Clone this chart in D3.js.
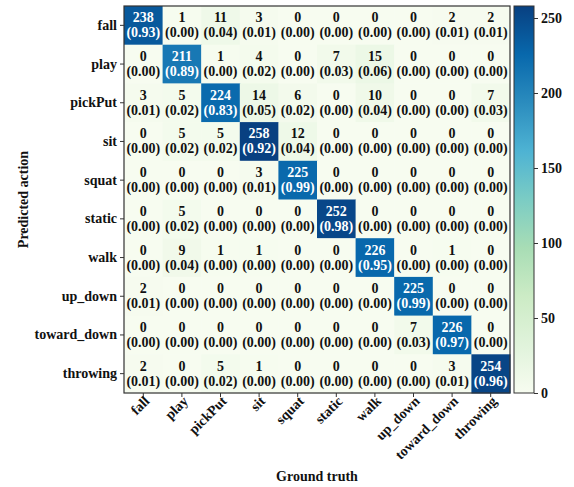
<!DOCTYPE html>
<html>
<head>
<meta charset="utf-8">
<script src="https://cdn.jsdelivr.net/npm/d3@7"></script>
<style>
  html, body { margin: 0; padding: 0; background: #fff; }
  svg text { font-family: "Liberation Serif", "Times New Roman", serif; font-weight: bold; }
</style>
</head>
<body>
<svg id="chart" width="574" height="487"></svg>
<script>
// Action classes (rows = predicted, columns = ground truth)
const classes = ["fall", "play", "pickPut", "sit", "squat", "static", "walk", "up_down", "toward_down", "throwing"];

// Confusion counts, one array per predicted class
const fall       = [238, 1, 11, 3, 0, 0, 0, 0, 2, 2];
const play       = [0, 211, 1, 4, 0, 7, 15, 0, 0, 0];
const pickPut    = [3, 5, 224, 14, 6, 0, 10, 0, 0, 7];
const sit        = [0, 5, 5, 258, 12, 0, 0, 0, 0, 0];
const squat      = [0, 0, 0, 3, 225, 0, 0, 0, 0, 0];
const staticRow  = [0, 5, 0, 0, 0, 252, 0, 0, 0, 0];
const walk       = [0, 9, 1, 1, 0, 0, 226, 0, 1, 0];
const upDown     = [2, 0, 0, 0, 0, 0, 0, 225, 0, 0];
const towardDown = [0, 0, 0, 0, 0, 0, 0, 7, 226, 0];
const throwing   = [2, 0, 5, 1, 0, 0, 0, 0, 3, 254];

const counts = [fall, play, pickPut, sit, squat, staticRow, walk, upDown, towardDown, throwing];
const colorbarTicks = [0, 50, 100, 150, 200, 250];

// Green-blue sequential palette, interpolated linearly between its nine anchors
const gnbu = ["#f7fcf0", "#e0f3db", "#ccebc5", "#a8ddb5", "#7bccc4", "#4eb3d3", "#2b8cbe", "#0868ac", "#084081"];
const gnbuInterp = d3.piecewise(d3.interpolateRgb, gnbu);

const svg = d3.select("#chart");
const plotLeft = 124, plotRight = 510, plotTop = 6, plotBottom = 393;

const x = d3.scaleBand().domain(classes).range([plotLeft, plotRight]);
const y = d3.scaleBand().domain(classes).range([plotTop, plotBottom]);

const vmax = d3.max(counts.flat());
const color = d3.scaleSequential(gnbuInterp).domain([0, vmax]);
const fmt = d3.format(".2f");

// Cells
const cells = [];
counts.forEach((row, i) => {
  const total = d3.sum(row);
  row.forEach((v, j) => cells.push({ pred: classes[i], truth: classes[j], v, frac: v / total }));
});

const g = svg.append("g");
g.selectAll("rect.cell").data(cells).join("rect")
  .attr("class", "cell")
  .attr("x", d => x(d.truth))
  .attr("y", d => y(d.pred))
  .attr("width", x.bandwidth() + 0.5)
  .attr("height", y.bandwidth() + 0.5)
  .attr("fill", d => color(d.v));

const labels = g.selectAll("g.lbl").data(cells).join("g")
  .attr("class", "lbl")
  .attr("transform", d => `translate(${x(d.truth) + x.bandwidth() / 2},${y(d.pred) + y.bandwidth() / 2})`)
  .attr("fill", d => d.v > vmax / 2 ? "#ffffff" : "#111111")
  .attr("font-size", 14)
  .attr("text-anchor", "middle");
labels.append("text").attr("y", -3).text(d => d.v);
labels.append("text").attr("y", 12).text(d => `(${fmt(d.frac)})`);

// Frame
svg.append("rect")
  .attr("x", plotLeft).attr("y", plotTop)
  .attr("width", plotRight - plotLeft).attr("height", plotBottom - plotTop)
  .attr("fill", "none").attr("stroke", "#333").attr("stroke-width", 1.2);

// Axes
const yAxis = svg.append("g").attr("transform", `translate(${plotLeft},0)`)
  .call(d3.axisLeft(y).tickSize(4).tickPadding(3));
const xAxis = svg.append("g").attr("transform", `translate(0,${plotBottom})`)
  .call(d3.axisBottom(x).tickSize(4).tickPadding(3));
[xAxis, yAxis].forEach(a => {
  a.select(".domain").remove();
  a.selectAll(".tick line").attr("stroke", "#333");
  a.selectAll(".tick text").attr("fill", "#111").attr("font-size", 14);
});
xAxis.selectAll(".tick text")
  .attr("text-anchor", "end")
  .attr("dy", null)
  .attr("y", 0)
  .attr("transform", "translate(7,9) rotate(-45)");

// Axis titles
svg.append("text")
  .attr("x", (plotLeft + plotRight) / 2).attr("y", 481)
  .attr("text-anchor", "middle").attr("font-size", 14).attr("fill", "#111")
  .text("Ground truth");
svg.append("text")
  .attr("transform", `translate(28,${(plotTop + plotBottom) / 2}) rotate(-90)`)
  .attr("text-anchor", "middle").attr("font-size", 14).attr("fill", "#111")
  .text("Predicted action");

// Colorbar
const cbX = 514, cbW = 20;
const cbScale = d3.scaleLinear().domain([0, vmax]).range([plotBottom, plotTop]);
const defs = svg.append("defs");
const grad = defs.append("linearGradient").attr("id", "cbgrad")
  .attr("x1", 0).attr("y1", 1).attr("x2", 0).attr("y2", 0);
gnbu.forEach((c, i) => {
  grad.append("stop").attr("offset", i / (gnbu.length - 1)).attr("stop-color", c);
});
svg.append("rect")
  .attr("x", cbX).attr("y", plotTop).attr("width", cbW).attr("height", plotBottom - plotTop)
  .attr("fill", "url(#cbgrad)").attr("stroke", "#333").attr("stroke-width", 1);
const cbAxis = svg.append("g").attr("transform", `translate(${cbX + cbW},0)`)
  .call(d3.axisRight(cbScale).tickValues(colorbarTicks).tickSize(4).tickPadding(3));
cbAxis.select(".domain").remove();
cbAxis.selectAll(".tick line").attr("stroke", "#333");
cbAxis.selectAll(".tick text").attr("fill", "#111").attr("font-size", 14);
</script>
</body>
</html>
